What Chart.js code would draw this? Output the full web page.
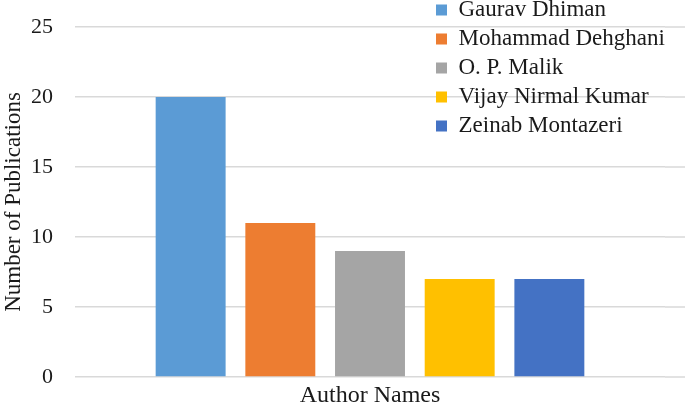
<!DOCTYPE html>
<html>
<head>
<meta charset="utf-8">
<script src="https://cdn.jsdelivr.net/npm/chart.js@4"></script>
<style>
  html, body { margin: 0; padding: 0; background: #fff; }
  #wrap { width: 685px; height: 403px; position: relative; }
</style>
</head>
<body>
<div id="wrap"><canvas id="chart"></canvas></div>
<script>
// --- DATA ---
const categories = ['Author Names'];
const authors = ['Gaurav Dhiman', 'Mohammad Dehghani', 'O. P. Malik', 'Vijay Nirmal Kumar', 'Zeinab Montazeri'];
const publications = [20, 11, 9, 7, 7];
const colors = ['#5B9BD5', '#ED7D31', '#A5A5A5', '#FFC000', '#4472C4'];
const yTicks = [0, 5, 10, 15, 20, 25];

const FONT = "'Liberation Serif', 'Times New Roman', serif";
const GRID = '#d9d9d9';
const TEXT = '#1a1a1a';

// one dataset per author so each gets its own legend entry
const datasets = authors.map((name, i) => ({
    label: name,
    data: [publications[i]],
    backgroundColor: colors[i],
    borderWidth: 0,
    categoryPercentage: 0.76,
    barPercentage: 0.78
}));

// move the legend over the top right of the plot
const legendPlacer = {
    id: 'legendPlacer',
    afterLayout(chart) {
        const lg = chart.legend;
        const w = lg.width, h = lg.height;
        lg.left = 430;
        lg.right = lg.left + w;
        lg.top = -7.5;
        lg.bottom = lg.top + h;
    }
};

// gridlines run on to the right edge of the picture
const gridTail = {
    id: 'gridTail',
    beforeDatasetsDraw(chart) {
        const ctx = chart.ctx;
        const y = chart.scales.y;
        ctx.save();
        ctx.strokeStyle = GRID;
        ctx.lineWidth = 1.5;
        yTicks.forEach(v => {
            const py = y.getPixelForValue(v);
            ctx.beginPath();
            ctx.moveTo(chart.chartArea.right, py);
            ctx.lineTo(chart.width, py);
            ctx.stroke();
        });
        ctx.restore();
    }
};

new Chart(document.getElementById('chart'), {
    type: 'bar',
    data: { labels: categories, datasets: datasets },
    plugins: [legendPlacer, gridTail],
    options: {
        responsive: true,
        maintainAspectRatio: false,
        animation: false,
        layout: { padding: { top: 27, right: 20, left: 0, bottom: 0 } },
        plugins: {
            tooltip: { enabled: false },
            legend: {
                position: 'chartArea',
                align: 'start',
                labels: {
                    boxWidth: 11,
                    boxHeight: 11,
                    padding: 6,
                    color: TEXT,
                    font: { family: FONT, size: 23 }
                }
            }
        },
        scales: {
            x: {
                grid: { display: false, drawTicks: false },
                border: { display: false },
                ticks: { color: TEXT, padding: 4, font: { family: FONT, size: 24 } },
                afterFit: s => { s.height = 26; s.paddingLeft = 0; s.paddingRight = 0; }
            },
            y: {
                min: 0,
                max: 25,
                afterBuildTicks: s => { s.ticks = yTicks.map(v => ({ value: v })); },
                grid: { color: GRID, lineWidth: 1.5, drawTicks: false },
                border: { display: false },
                ticks: { color: TEXT, padding: 22, font: { family: FONT, size: 22 } },
                title: {
                    display: true,
                    text: 'Number of Publications',
                    color: TEXT,
                    padding: 0,
                    font: { family: FONT, size: 23 }
                },
                afterFit: s => { s.width = 75; s.paddingTop = 0; s.paddingBottom = 0; }
            }
        }
    }
});
</script>
</body>
</html>
